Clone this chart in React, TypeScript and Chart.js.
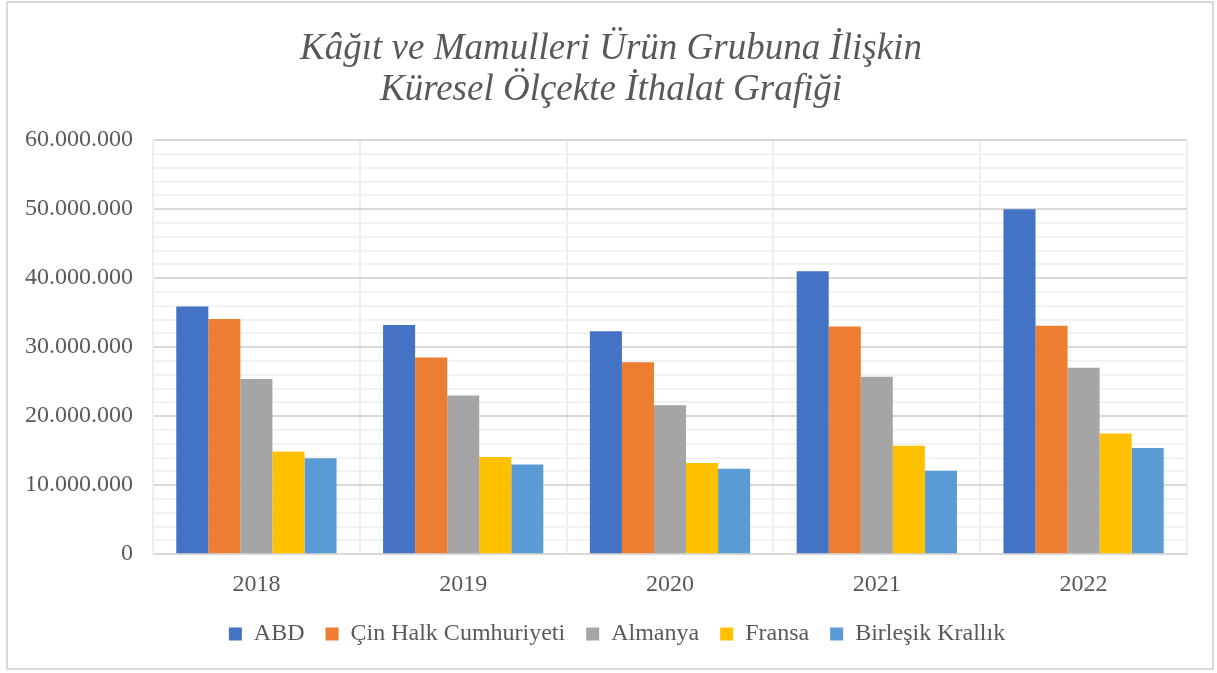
import React, { useEffect, useRef } from "react";
import { Chart, registerables } from "chart.js";

Chart.register(...registerables);

const years = ["2018", "2019", "2020", "2021", "2022"];
const abd = [35900000, 33200000, 32300000, 41000000, 50000000];
const cin = [34100000, 28500000, 27800000, 33000000, 33100000];
const almanya = [25400000, 23000000, 21600000, 25700000, 27000000];
const fransa = [14900000, 14100000, 13200000, 15700000, 17500000];
const birlesik = [13900000, 13000000, 12400000, 12100000, 15400000];

const seriesNames = ["ABD", "Çin Halk Cumhuriyeti", "Almanya", "Fransa", "Birleşik Krallık"];
const seriesColors = ["#4472C4", "#ED7D31", "#A5A5A5", "#FFC000", "#5B9BD5"];
const titleLines = ["Kâğıt ve Mamulleri Ürün Grubuna İlişkin", "Küresel Ölçekte İthalat Grafiği"];

const fmt = (v: number) => String(Math.round(v)).replace(/\B(?=(\d{3})+(?!\d))/g, ".");

const shiftPlugin = {
  id: "shiftBoxes",
  afterLayout(chart: any) {
    const t = chart.titleBlock;
    if (t) {
      t.left += 15;
      t.right += 15;
    }
    const l = chart.legend;
    if (l) {
      l.left += 21;
      l.right += 21;
    }
  },
};

export default function App() {
  const ref = useRef<HTMLCanvasElement>(null);
  useEffect(() => {
    if (!ref.current) return;
    const seriesData = [abd, cin, almanya, fransa, birlesik];
    const font = "'Liberation Serif', 'Times New Roman', serif";
    const chart = new Chart(ref.current, {
      type: "bar",
      data: {
        labels: years,
        datasets: seriesData.map((d, i) => ({
          label: seriesNames[i],
          data: d,
          backgroundColor: seriesColors[i],
          borderWidth: 0,
          categoryPercentage: 0.775,
          barPercentage: 1,
        })),
      },
      plugins: [shiftPlugin],
      options: {
        animation: false,
        responsive: false,
        maintainAspectRatio: false,
        layout: { padding: { left: 5, right: 30, top: 23, bottom: 17 } },
        plugins: {
          title: {
            display: true,
            text: titleLines,
            color: "#595959",
            font: { family: font, size: 37, style: "italic", weight: "normal", lineHeight: 1.11 },
            padding: { top: 6, bottom: 29 },
          },
          legend: {
            position: "bottom",
            labels: {
              color: "#595959",
              font: { family: font, size: 24 },
              boxWidth: 13,
              boxHeight: 13,
              padding: 21,
            },
          },
          tooltip: { enabled: false },
        },
        scales: {
          x: {
            grid: { color: "#eeeeee", lineWidth: 2, drawTicks: false },
            border: { display: true, color: "#d9d9d9", width: 2 },
            ticks: { color: "#595959", font: { family: font, size: 24 }, padding: 16 },
            afterFit: (s: any) => {
              s.height = s.height - 14;
            },
          },
          y: {
            min: 0,
            max: 60000000,
            grid: {
              drawTicks: false,
              color: (ctx: any) => (ctx.tick && ctx.tick.value % 10000000 === 0 ? "#d9d9d9" : "#f2f2f2"),
              lineWidth: 2,
            },
            border: { display: true, color: "#eeeeee", width: 2 },
            ticks: {
              stepSize: 2000000,
              autoSkip: false,
              color: "#595959",
              font: { family: font, size: 24 },
              padding: 20,
              callback: (v: any) => (Number(v) % 10000000 === 0 ? fmt(Number(v)) : ""),
            },
          },
        },
      },
    });
    return () => chart.destroy();
  }, []);
  return (
    <div style={{ position: "fixed", left: 0, top: 0, width: 1217, height: 673, background: "#fff" }}>
      <div
        style={{
          position: "absolute",
          left: 6,
          top: 1,
          width: 1208,
          height: 669,
          border: "2px solid #d9d9d9",
          boxSizing: "border-box",
        }}
      />
      <canvas ref={ref} width={1217} height={673} style={{ position: "absolute", left: 0, top: 0 }} />
    </div>
  );
}
